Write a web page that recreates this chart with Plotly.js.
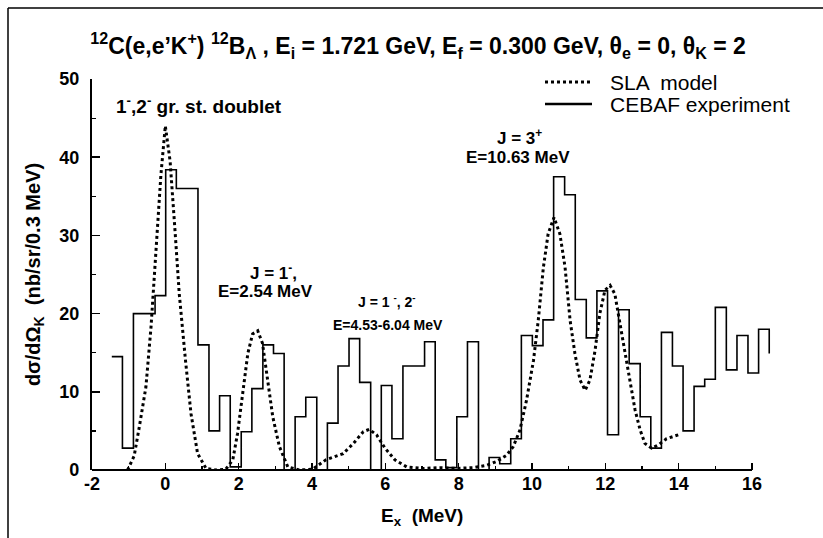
<!DOCTYPE html>
<html><head><meta charset="utf-8">
<script src="https://cdn.plot.ly/plotly-3.0.1.min.js"></script>
<style>html,body{margin:0;padding:0;background:#fff}#chart{width:823px;height:538px}</style>
</head><body><div id="chart"></div>
<script>
// CEBAF experiment histogram: bin left edges (last entry = right end) and heights
const binEdges = [-1.46, -1.17, -0.87, -0.58, -0.28, 0.01, 0.30, 0.60, 0.89, 1.19, 1.48, 1.77, 2.07, 2.36, 2.66, 2.95, 3.24, 3.54, 3.83, 4.13, 4.42, 4.71, 5.01, 5.30, 5.60, 5.89, 6.18, 6.48, 6.77, 7.07, 7.36, 7.65, 7.95, 8.24, 8.54, 8.83, 9.12, 9.42, 9.71, 10.01, 10.30, 10.59, 10.89, 11.18, 11.48, 11.77, 12.06, 12.36, 12.65, 12.95, 13.24, 13.53, 13.83, 14.12, 14.42, 14.71, 15.00, 15.30, 15.59, 15.89, 16.18, 16.47];
const expValues = [14.5, 2.8, 20.0, 20.0, 22.3, 38.4, 36.0, 36.0, 16.0, 5.0, 9.5, 0.4, 4.9, 10.4, 16.0, 14.9, 0, 6.8, 9.3, 0, 6.0, 13.3, 16.8, 11.2, 0, 10.8, 4.0, 13.3, 13.3, 16.4, 1.3, 0.3, 6.8, 16.4, 0, 1.6, 0.8, 4.0, 17.2, 15.9, 19.2, 37.5, 35.2, 21.8, 16.9, 22.9, 4.5, 20.5, 13.6, 6.8, 2.8, 17.6, 13.3, 5.0, 10.7, 11.6, 20.8, 12.8, 17.2, 12.4, 18.0, 14.9];

// SLA model curve
const slaX = [-1.03, -0.85, -0.71, -0.53, -0.39, -0.25, -0.12, 0.0, 0.13, 0.27, 0.38, 0.55, 0.70, 0.88, 1.11, 1.38, 1.65, 1.84, 1.97, 2.11, 2.25, 2.38, 2.52, 2.65, 2.79, 2.93, 3.11, 3.34, 3.65, 4.02, 4.38, 4.49, 4.85, 5.13, 5.40, 5.56, 5.76, 5.99, 6.26, 6.58, 7.04, 7.49, 7.95, 8.40, 8.76, 9.04, 9.31, 9.49, 9.67, 9.85, 10.04, 10.17, 10.31, 10.44, 10.60, 10.76, 10.90, 11.04, 11.17, 11.31, 11.45, 11.58, 11.72, 11.85, 11.99, 12.13, 12.26, 12.40, 12.54, 12.68, 12.81, 12.95, 13.08, 13.26, 13.44, 13.67, 13.99];
const slaY = [0.0, 1.8, 5.5, 10.6, 18.3, 28.9, 37.8, 44.0, 39.5, 30.2, 22.5, 14.0, 7.2, 2.1, 0.2, 0.0, 0.1, 1.3, 4.7, 9.8, 14.9, 17.4, 17.8, 16.2, 11.5, 6.8, 3.0, 0.4, 0.0, 0.1, 1.3, 1.5, 2.1, 3.4, 4.9, 5.2, 4.5, 2.8, 1.3, 0.4, 0.2, 0.3, 0.2, 0.3, 0.6, 1.1, 1.9, 3.0, 5.1, 8.9, 14.0, 19.1, 25.9, 30.2, 32.3, 30.2, 26.0, 19.1, 14.9, 11.5, 10.2, 11.5, 15.3, 20.0, 23.0, 23.6, 22.5, 18.7, 14.9, 11.1, 7.7, 5.1, 3.4, 2.8, 3.2, 4.0, 4.5];

const xTickVals = [-2, 0, 2, 4, 6, 8, 10, 12, 14, 16];
const yTickVals = [0, 10, 20, 30, 40, 50];
const seriesNames = ['SLA  model', 'CEBAF experiment'];

const FONT = 'Liberation Sans, Arial, Helvetica, sans-serif';
const bold = (size) => ({family: FONT, size: size, color: '#000', weight: 'bold'});
const DOT = {color: '#000', width: 3, dash: '3px,3px'};
const SOLID = {color: '#000', width: 1.6};

const traces = [
  {x: slaX, y: slaY, type: 'scatter', mode: 'lines', name: seriesNames[0], line: DOT},
  {x: binEdges, y: expValues, type: 'scatter', mode: 'lines', name: seriesNames[1],
   line: Object.assign({shape: 'hv'}, SOLID)}
];

function ann(text, x, y, size) {
  return {text: text, x: x, y: y, xref: 'x', yref: 'y', showarrow: false,
          xanchor: 'center', yanchor: 'middle', font: bold(size)};
}
// pixel helpers for decorations only (plot area: x 92..774 px, y 79..470 px)
const PW = 682, PH = 391;
const px = (p) => (p - 92) / PW;
const py = (p) => (470 - p) / PH;

const layout = {
  width: 823, height: 538,
  margin: {l: 92, r: 49, t: 79, b: 68},
  paper_bgcolor: '#fff', plot_bgcolor: '#fff',
  showlegend: false,
  title: {text: '<sup>12</sup>C(e,e\u2019K<sup>+</sup>) <sup>12</sup>B<sub>\u039B</sub> , E<sub>i</sub> = 1.721 GeV, E<sub>f</sub> = 0.300 GeV, \u03B8<sub>e</sub> = 0, \u03B8<sub>K</sub> = 2',
          font: bold(23), x: 0.508, xref: 'container', y: 0.9145, yref: 'container', yanchor: 'middle', xanchor: 'center'},
  xaxis: {range: [-2, 16.6], tickvals: xTickVals, ticktext: xTickVals.map(String),
          ticks: 'inside', ticklen: 7, tickwidth: 1.5, tickcolor: '#000',
          minor: {ticks: 'inside', dtick: 1, ticklen: 4, tickwidth: 1.2, tickcolor: '#000'},
          showline: false, showgrid: false, zeroline: false,
          tickfont: bold(18), ticklabelstandoff: 1},
  yaxis: {range: [0, 50], tickvals: yTickVals, ticktext: yTickVals.map(String),
          ticks: 'inside', ticklen: 8, tickwidth: 1.5, tickcolor: '#000',
          minor: {ticks: 'inside', dtick: 5, ticklen: 4, tickwidth: 1.2, tickcolor: '#000'},
          showline: true, linewidth: 2.2, linecolor: '#000', showgrid: false, zeroline: false,
          tickfont: bold(18), ticklabelstandoff: 7,
          title: {text: 'd\u03C3/d\u03A9<sub>K</sub>&nbsp; (nb/sr/0.3 MeV)', font: bold(20), standoff: 13}},
  annotations: [
    ann('1<sup>-</sup>,2<sup>-</sup> gr. st. doublet', 0.93, 46.7, 19),
    ann('J = 1<sup>-</sup>,', 2.95, 25.3, 17),
    ann('E=2.54 MeV', 2.72, 22.8, 17),
    ann('J = 1 <sup>-</sup>, 2<sup>-</sup>', 6.04, 21.6, 14),
    ann('E=4.53-6.04 MeV', 6.06, 18.5, 14),
    ann('J = 3<sup>+</sup>', 9.67, 42.6, 17),
    ann('E=10.63 MeV', 9.62, 40.0, 17),
    // x-axis title
    {text: 'E<sub>x</sub>&nbsp; (MeV)', x: px(421.5), y: py(517), xref: 'paper', yref: 'paper',
     showarrow: false, xanchor: 'center', yanchor: 'middle', font: bold(19)},
    // legend texts
    {text: seriesNames[0], x: px(608), y: py(82), xref: 'paper', yref: 'paper', showarrow: false,
     xanchor: 'left', yanchor: 'middle', font: {family: FONT, size: 21, color: '#000'}},
    {text: seriesNames[1], x: px(608), y: py(104), xref: 'paper', yref: 'paper', showarrow: false,
     xanchor: 'left', yanchor: 'middle', font: {family: FONT, size: 21, color: '#000'}}
  ],
  shapes: [
    // x axis line from -2 to 16
    {type: 'line', xref: 'x', yref: 'paper', x0: -2, x1: 16, y0: 0, y1: 0, line: {color: '#000', width: 2}},
    // legend samples
    {type: 'line', xref: 'paper', yref: 'paper', x0: px(545), x1: px(592), y0: py(82), y1: py(82), line: DOT},
    {type: 'line', xref: 'paper', yref: 'paper', x0: px(545), x1: px(592), y0: py(104), y1: py(104), line: {color: '#000', width: 2.5}},
    // outer frame (left and top)
    {type: 'line', xref: 'paper', yref: 'paper', x0: px(8), x1: px(8), y0: py(545), y1: py(8), line: {color: '#000', width: 1.5}},
    {type: 'line', xref: 'paper', yref: 'paper', x0: px(8), x1: px(830), y0: py(8), y1: py(8), line: {color: '#000', width: 1.5}}
  ]
};

Plotly.newPlot('chart', traces, layout, {displayModeBar: false, staticPlot: true});
</script>
</body></html>
